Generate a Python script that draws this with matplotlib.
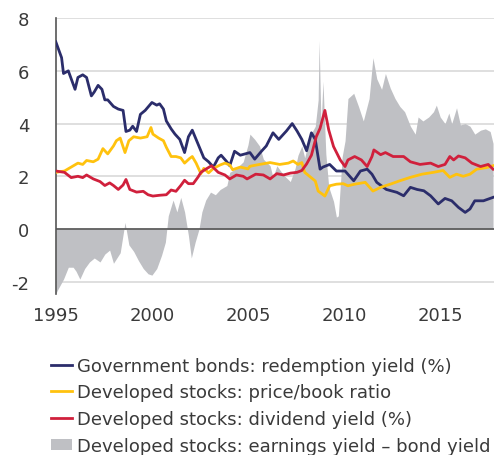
import matplotlib.pyplot as plt
from matplotlib.patches import Patch
from matplotlib.lines import Line2D

plt.rcParams['font.family'] = ['DejaVu Sans']

# Government bonds: redemption yield (%)
bond_x = [1995.0, 1995.3, 1995.4, 1995.65, 1996.0, 1996.15, 1996.4, 1996.6, 1996.85, 1997.0,
          1997.2, 1997.4, 1997.55, 1997.7, 1998.0, 1998.25, 1998.5, 1998.65, 1998.85, 1999.0,
          1999.2, 1999.4, 1999.65, 2000.0, 2000.25, 2000.4, 2000.6, 2000.75, 2001.0, 2001.2,
          2001.45, 2001.7, 2001.9, 2002.1, 2002.3, 2002.5, 2002.7, 2002.95, 2003.2, 2003.45,
          2003.6, 2003.9, 2004.05, 2004.3, 2004.6, 2005.1, 2005.35, 2005.7, 2005.95, 2006.3,
          2006.6, 2006.85, 2007.0, 2007.3, 2007.55, 2007.8, 2008.05, 2008.3, 2008.5, 2008.75,
          2008.9, 2009.25, 2009.6, 2010.05, 2010.5, 2010.85, 2011.2, 2011.45, 2011.7, 2012.2,
          2012.75, 2013.1, 2013.45, 2013.8, 2014.15, 2014.5, 2014.9, 2015.25, 2015.6, 2015.95,
          2016.3, 2016.55, 2016.8, 2017.25, 2017.75]
bond_y = [7.1, 6.5, 5.9, 6.0, 5.3, 5.75, 5.85, 5.75, 5.05, 5.2,
          5.45, 5.3, 4.9, 4.9, 4.65, 4.55, 4.5, 3.7, 3.75, 3.9,
          3.7, 4.35, 4.5, 4.8, 4.7, 4.75, 4.55, 4.1, 3.8, 3.6,
          3.4, 2.9, 3.5, 3.75, 3.4, 3.05, 2.7, 2.55, 2.35, 2.7,
          2.8, 2.55, 2.4, 2.95, 2.8, 2.9, 2.65, 2.95, 3.15, 3.65,
          3.4, 3.6, 3.72, 4.0, 3.72, 3.4, 2.97, 3.65, 3.4, 2.27,
          2.35, 2.45, 2.2, 2.2, 1.83, 2.2, 2.27, 2.08, 1.77, 1.5,
          1.39, 1.26, 1.58, 1.5, 1.45, 1.26, 0.95, 1.16, 1.07, 0.82,
          0.63, 0.76, 1.07, 1.07, 1.2]

# Developed stocks: price/book ratio
pb_x = [1995.0, 1995.45, 1995.8, 1996.15, 1996.4, 1996.6, 1996.95, 1997.2, 1997.45, 1997.7,
        1998.0, 1998.15, 1998.35, 1998.6, 1998.8, 1999.05, 1999.4, 1999.75, 1999.95, 2000.05,
        2000.35, 2000.6, 2000.75, 2001.0, 2001.25, 2001.5, 2001.7, 2001.95, 2002.1, 2002.3,
        2002.55, 2002.7, 2002.95, 2003.2, 2003.55, 2003.8, 2004.05, 2004.2, 2004.6, 2005.0,
        2005.1, 2005.6, 2006.15, 2006.65, 2007.1, 2007.35, 2007.6, 2007.8, 2007.95, 2008.2,
        2008.5, 2008.65, 2009.0, 2009.25, 2009.6, 2009.95, 2010.2, 2010.55, 2011.1, 2011.5,
        2011.9, 2012.4, 2012.9, 2013.45, 2014.05, 2014.65, 2015.15, 2015.5, 2015.85, 2016.2,
        2016.55, 2016.9, 2017.4, 2017.75]
pb_y = [2.15, 2.2, 2.35, 2.5, 2.45, 2.6, 2.55, 2.65, 3.05, 2.85,
        3.15, 3.35, 3.45, 2.9, 3.35, 3.5, 3.45, 3.5, 3.85, 3.6,
        3.45, 3.35, 3.1, 2.75, 2.75, 2.7, 2.5, 2.67, 2.75, 2.5,
        2.1, 2.3, 2.13, 2.3, 2.43, 2.5, 2.43, 2.25, 2.35, 2.28,
        2.38, 2.45, 2.52, 2.45, 2.5, 2.58, 2.45, 2.52, 2.15, 2.0,
        1.82, 1.44, 1.25, 1.64, 1.7, 1.72, 1.64, 1.7, 1.77, 1.44,
        1.58, 1.7, 1.83, 1.96, 2.08, 2.15, 2.22, 1.96, 2.08, 2.0,
        2.08, 2.27, 2.33, 2.4]

# Developed stocks: dividend yield (%)
div_x = [1995.0, 1995.45, 1995.8, 1996.15, 1996.4, 1996.6, 1996.95, 1997.3, 1997.55, 1997.8,
         1998.0, 1998.25, 1998.5, 1998.65, 1998.85, 1999.2, 1999.55, 1999.8, 2000.05, 2000.4,
         2000.75, 2001.0, 2001.25, 2001.5, 2001.7, 2001.9, 2002.15, 2002.4, 2002.55, 2002.8,
         2003.1, 2003.45, 2003.8, 2004.05, 2004.4, 2004.75, 2004.95, 2005.4, 2005.8, 2006.15,
         2006.5, 2006.85, 2007.2, 2007.55, 2007.8, 2008.05, 2008.3, 2008.55, 2008.75, 2009.0,
         2009.2, 2009.45, 2009.8, 2010.05, 2010.2, 2010.55, 2010.9, 2011.2, 2011.45, 2011.55,
         2011.9, 2012.15, 2012.55, 2013.1, 2013.45, 2013.95, 2014.5, 2014.9, 2015.25, 2015.5,
         2015.7, 2015.95, 2016.3, 2016.65, 2017.1, 2017.5, 2017.75]
div_y = [2.2, 2.15, 1.95, 2.0, 1.95, 2.05, 1.9, 1.8, 1.65, 1.75,
         1.65, 1.5, 1.67, 1.88, 1.5, 1.4, 1.43, 1.3, 1.25, 1.28,
         1.3, 1.48, 1.43, 1.65, 1.85, 1.72, 1.72, 1.97, 2.15, 2.27,
         2.4, 2.15, 2.05, 1.9, 2.05, 2.0, 1.9, 2.08, 2.05, 1.9,
         2.1, 2.05, 2.12, 2.15, 2.22, 2.47, 2.8, 3.5, 3.82, 4.5,
         3.76, 3.13, 2.62, 2.37, 2.62, 2.75, 2.62, 2.37, 2.75, 3.0,
         2.82, 2.9, 2.75, 2.75, 2.55, 2.45, 2.5, 2.37, 2.45, 2.75,
         2.62, 2.77, 2.7, 2.5, 2.37, 2.45, 2.27]

# Developed stocks: earnings yield - bond yield
gap_x = [1995.0, 1995.1, 1995.4, 1995.65, 1995.9, 1996.05, 1996.25, 1996.5, 1996.75, 1997.0,
         1997.3, 1997.55, 1997.8, 1998.0, 1998.35, 1998.6, 1998.8, 1999.05, 1999.3, 1999.55,
         1999.8, 2000.0, 2000.25, 2000.5, 2000.7, 2000.85, 2001.1, 2001.3, 2001.5, 2001.7,
         2001.9, 2002.05, 2002.25, 2002.45, 2002.6, 2002.8, 2003.05, 2003.3, 2003.55, 2003.9,
         2004.05, 2004.4, 2004.75, 2005.0, 2005.1, 2005.35, 2005.6, 2005.8, 2006.15, 2006.3,
         2006.5, 2006.85, 2007.2, 2007.45, 2007.6, 2007.8, 2007.95, 2008.2, 2008.5, 2008.65,
         2008.7, 2008.8, 2008.9, 2009.05, 2009.2, 2009.45, 2009.6, 2009.7, 2009.9, 2010.05,
         2010.2, 2010.5, 2010.75, 2011.0, 2011.3, 2011.5, 2011.7, 2011.95, 2012.15, 2012.4,
         2012.65, 2012.9, 2013.15, 2013.45, 2013.7, 2013.85, 2014.1, 2014.4, 2014.65, 2014.8,
         2015.0, 2015.25, 2015.45, 2015.6, 2015.85, 2016.05, 2016.3, 2016.55, 2016.8, 2017.1,
         2017.35, 2017.6, 2017.75]
gap_y = [-2.45, -2.3, -1.9, -1.45, -1.45, -1.6, -1.9, -1.5, -1.25, -1.1,
         -1.25, -0.95, -0.8, -1.3, -0.9, 0.25, -0.6, -0.85, -1.2, -1.5,
         -1.7, -1.75, -1.5, -1.0, -0.5, 0.5, 1.1, 0.65, 1.2, 0.65,
         -0.25, -1.1, -0.5, 0.0, 0.65, 1.1, 1.4, 1.3, 1.5, 1.65,
         2.15, 2.3, 2.55, 3.2, 3.6, 3.4, 3.15, 2.65, 2.4, 1.95,
         2.4, 2.05, 1.8, 2.3, 2.8, 3.15, 2.7, 3.5, 3.9, 4.9,
         7.15, 3.9, 5.6, 2.85, 1.6, 1.05, 0.45, 0.5, 2.75, 3.35,
         4.95, 5.15, 4.65, 4.1, 4.95, 6.5, 5.7, 5.3, 5.9, 5.35,
         4.95, 4.65, 4.45, 3.9, 3.6, 4.25, 4.1, 4.25, 4.45, 4.7,
         4.25, 4.0, 4.4, 4.0, 4.6, 3.95, 4.0, 3.9, 3.6, 3.75,
         3.8, 3.7, 3.25]

labels = ['Government bonds: redemption yield (%)',
          'Developed stocks: price/book ratio',
          'Developed stocks: dividend yield (%)',
          'Developed stocks: earnings yield \u2013 bond yield']

navy = '#2b2d6b'
gold = '#ffc20e'
red = '#d0203c'
grey = '#bfc0c4'
text_c = '#3a3a3a'

fig = plt.figure(figsize=(4.94, 4.56), dpi=100)
ax = fig.add_axes([0.113, 0.354, 0.887, 0.604])

ax.fill_between(gap_x, 0, gap_y, color=grey, lw=0, zorder=1)
ax.axhline(0, color='#555555', lw=1.2, zorder=2)
ax.plot(bond_x, bond_y, color=navy, lw=2.0, zorder=3)
ax.plot(pb_x, pb_y, color=gold, lw=2.0, zorder=3)
ax.plot(div_x, div_y, color=red, lw=2.0, zorder=3)

ax.set_xlim(1995, 2017.8)
ax.set_ylim(-2.45, 8)
ax.set_yticks([-2, 0, 2, 4, 6, 8])
ax.set_yticklabels(['-2', '0', '2', '4', '6', '8'])
ax.set_xticks([1995, 2000, 2005, 2010, 2015])
ax.grid(axis='y', color='#d9d9d9', lw=1.2)
ax.set_axisbelow(True)
for s in ['top', 'right', 'bottom']:
    ax.spines[s].set_visible(False)
ax.spines['left'].set_color('#555555')
ax.spines['left'].set_linewidth(1.2)
ax.tick_params(axis='y', length=0, pad=19, labelsize=13, labelcolor=text_c)
ax.tick_params(axis='x', length=0, pad=9, labelsize=13, labelcolor=text_c)

handles = [Line2D([], [], color=navy, lw=2),
           Line2D([], [], color=gold, lw=2),
           Line2D([], [], color=red, lw=2),
           Patch(facecolor=grey, edgecolor='none')]
leg = fig.legend(handles, labels, loc='upper left', bbox_to_anchor=(0.103, 0.216),
                 frameon=False, fontsize=13, handlelength=1.15, handletextpad=0.3,
                 labelspacing=0.48, borderaxespad=0, borderpad=0, handleheight=0.55)
for t in leg.get_texts():
    t.set_color(text_c)

fig.savefig('out.png', dpi=100)
